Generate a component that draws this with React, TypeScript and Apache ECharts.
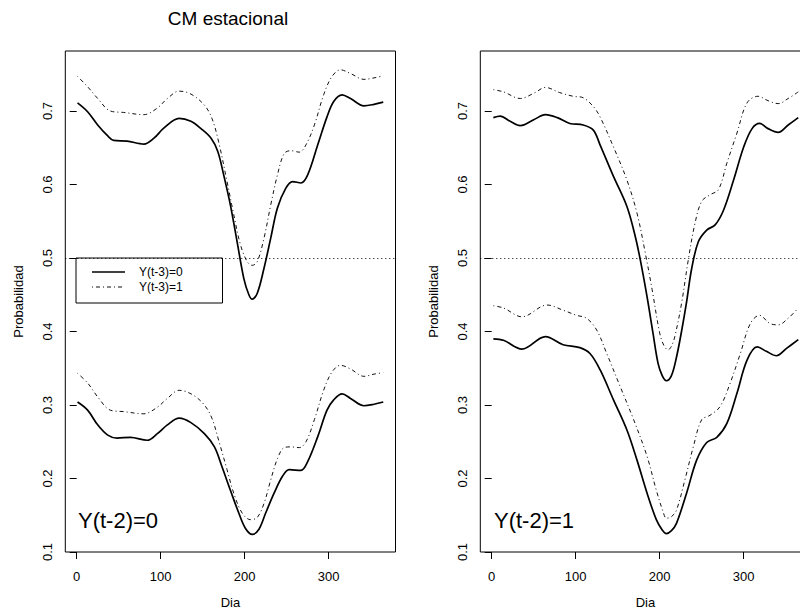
import React, { useEffect, useRef } from "react";
import * as echarts from "echarts";

// ---- data (day, probability) ----
const X_TICKS = [0, 100, 200, 300];
const Y_TICKS = [0.1, 0.2, 0.3, 0.4, 0.5, 0.6, 0.7];
const X_MIN = -13.56;
const X_MAX = 379.56;
const Y_MIN = 0.1;
const Y_MAX = 0.7816;
const REF_LINE = 0.5;

const TITLE = "CM estacional";
const PANEL_LABELS = ["Y(t-2)=0", "Y(t-2)=1"];
const LEGEND_NAMES = ["Y(t-3)=0", "Y(t-3)=1"];
const X_NAME = "Dia";
const Y_NAME = "Probabilidad";

// Panel Y(t-2)=0
const leftUpperSolid = [[1,0.711],[13,0.699],[25,0.681],[37,0.666],[44,0.660],[60,0.659],[80,0.655],[92,0.663],[104,0.677],[122,0.690],[136,0.686],[148,0.676],[160,0.663],[168,0.645],[175,0.613],[183,0.572],[191,0.522],[199,0.472],[205,0.450],[209,0.444],[215,0.452],[223,0.486],[231,0.527],[239,0.568],[249,0.595],[257,0.604],[267,0.602],[275,0.613],[287,0.654],[298,0.692],[306,0.713],[316,0.722],[326,0.717],[342,0.707],[354,0.709],[365,0.712]];
const leftUpperDash = [[1,0.747],[13,0.733],[25,0.717],[40,0.700],[56,0.698],[80,0.695],[96,0.704],[108,0.717],[122,0.727],[136,0.723],[152,0.708],[161,0.690],[169,0.658],[179,0.604],[187,0.559],[195,0.518],[203,0.495],[209,0.490],[215,0.495],[223,0.527],[231,0.572],[239,0.613],[247,0.642],[255,0.646],[265,0.644],[273,0.654],[283,0.681],[294,0.722],[304,0.747],[314,0.756],[326,0.751],[342,0.743],[354,0.745],[365,0.748]];
const leftLowerSolid = [[1,0.304],[13,0.293],[25,0.273],[37,0.259],[48,0.255],[64,0.256],[84,0.252],[96,0.261],[108,0.273],[122,0.282],[136,0.276],[152,0.261],[164,0.243],[173,0.216],[183,0.184],[193,0.153],[201,0.132],[209,0.124],[217,0.131],[225,0.153],[235,0.180],[245,0.203],[253,0.212],[267,0.211],[275,0.223],[287,0.257],[298,0.293],[306,0.307],[316,0.315],[326,0.309],[342,0.299],[354,0.301],[365,0.304]];
const leftLowerDash = [[1,0.343],[13,0.330],[25,0.311],[40,0.293],[56,0.291],[80,0.288],[96,0.297],[108,0.309],[122,0.320],[138,0.314],[152,0.300],[161,0.282],[169,0.252],[179,0.212],[187,0.180],[197,0.153],[207,0.144],[215,0.147],[223,0.166],[231,0.198],[239,0.227],[247,0.242],[255,0.243],[265,0.242],[273,0.250],[283,0.280],[294,0.320],[304,0.345],[314,0.354],[326,0.349],[342,0.339],[354,0.342],[365,0.344]];

// Panel Y(t-2)=1
const rightUpperSolid = [[2,0.691],[10,0.693],[22,0.686],[34,0.680],[50,0.688],[64,0.695],[78,0.691],[93,0.683],[109,0.681],[121,0.674],[129,0.654],[145,0.611],[161,0.570],[171,0.529],[177,0.497],[185,0.447],[192,0.398],[198,0.357],[203,0.340],[208,0.333],[214,0.340],[220,0.365],[226,0.400],[232,0.440],[238,0.485],[246,0.522],[256,0.538],[266,0.545],[276,0.565],[288,0.606],[300,0.651],[310,0.676],[319,0.683],[329,0.676],[341,0.671],[353,0.681],[365,0.691]];
const rightUpperDash = [[2,0.729],[14,0.726],[34,0.717],[50,0.724],[64,0.732],[81,0.725],[97,0.720],[109,0.718],[121,0.706],[129,0.692],[145,0.651],[161,0.606],[173,0.561],[183,0.506],[191,0.457],[200,0.398],[205,0.381],[210,0.375],[214,0.380],[218,0.393],[226,0.438],[234,0.497],[242,0.547],[250,0.577],[260,0.586],[270,0.593],[280,0.629],[292,0.670],[304,0.711],[317,0.720],[329,0.714],[341,0.710],[353,0.717],[365,0.726]];
const rightLowerSolid = [[2,0.390],[14,0.388],[36,0.376],[64,0.393],[85,0.382],[105,0.378],[117,0.370],[129,0.348],[145,0.307],[161,0.266],[173,0.225],[185,0.180],[196,0.144],[203,0.130],[208,0.125],[214,0.129],[220,0.139],[232,0.180],[244,0.225],[256,0.249],[268,0.256],[280,0.275],[292,0.316],[304,0.361],[316,0.379],[327,0.373],[339,0.367],[351,0.377],[365,0.389]];
const rightLowerDash = [[2,0.435],[14,0.432],[36,0.420],[66,0.436],[85,0.429],[101,0.422],[113,0.418],[125,0.402],[137,0.370],[153,0.325],[169,0.280],[185,0.230],[196,0.184],[204,0.155],[208,0.146],[214,0.148],[220,0.157],[230,0.198],[240,0.243],[250,0.280],[260,0.286],[272,0.298],[284,0.330],[296,0.370],[308,0.411],[319,0.422],[331,0.411],[341,0.409],[353,0.418],[365,0.432]];

const FONT = "'Liberation Sans', Arial, Helvetica, sans-serif";
const DASHDOT = [1, 3, 4, 3];

const GRIDS = [
  { left: 65.3, top: 51, width: 330.2, height: 501 },
  { left: 480.3, top: 51, width: 330.2, height: 501 },
];

function xAxis(gridIndex: number) {
  return {
    type: "value",
    gridIndex,
    min: X_MIN,
    max: X_MAX,
    axisLine: { show: false },
    splitLine: { show: false },
    axisTick: { show: true, customValues: X_TICKS, length: 7, lineStyle: { color: "#000", width: 1 } },
    axisLabel: { customValues: X_TICKS, margin: 18, color: "#000", fontSize: 13, fontFamily: FONT },
    name: X_NAME,
    nameLocation: "middle",
    nameGap: 44,
    nameMoveOverlap: false,
    nameTextStyle: { color: "#000", fontSize: 13, fontFamily: FONT },
  };
}

function yAxis(gridIndex: number) {
  return {
    type: "value",
    gridIndex,
    min: Y_MIN,
    max: Y_MAX,
    axisLine: { show: false },
    splitLine: { show: false },
    axisTick: { show: true, customValues: Y_TICKS, length: 7, lineStyle: { color: "#000", width: 1 } },
    axisLabel: {
      customValues: Y_TICKS,
      rotate: 90,
      margin: 11,
      color: "#000",
      fontSize: 13,
      fontFamily: FONT,
      formatter: (v: number) => v.toFixed(1),
    },
    name: Y_NAME,
    nameLocation: "middle",
    nameGap: 40,
    nameMoveOverlap: false,
    nameTextStyle: { color: "#000", fontSize: 13, fontFamily: FONT },
  };
}

function lineSeries(name: string, data: number[][], gi: number, dashed: boolean, mark: boolean) {
  const s: any = {
    type: "line",
    name,
    xAxisIndex: gi,
    yAxisIndex: gi,
    data,
    smooth: 0.35,
    symbol: "none",
    showSymbol: false,
    silent: true,
    lineStyle: dashed
      ? { color: "#111", width: 1, type: DASHDOT }
      : { color: "#000", width: 1.7, type: "solid" },
  };
  if (mark) {
    s.markLine = {
      silent: true,
      symbol: ["none", "none"],
      label: { show: false },
      lineStyle: { color: "#000", width: 1, type: [1, 3] },
      data: [{ yAxis: REF_LINE }],
    };
  }
  return s;
}

export default function App() {
  const ref = useRef<HTMLDivElement>(null);
  useEffect(() => {
    if (!ref.current) return;
    const chart = echarts.init(ref.current, null, { renderer: "svg", width: 800, height: 612 });
    const option: any = {
      animation: false,
      backgroundColor: "#fff",
      grid: GRIDS.map((g) => ({
        ...g,
        show: true,
        borderColor: "#000",
        borderWidth: 1,
        backgroundColor: "transparent",
        containLabel: false,
        outerBoundsMode: "none",
      })),
      xAxis: [xAxis(0), xAxis(1)],
      yAxis: [yAxis(0), yAxis(1)],
      series: [
        lineSeries(LEGEND_NAMES[0], leftUpperSolid, 0, false, true),
        lineSeries(LEGEND_NAMES[1], leftUpperDash, 0, true, false),
        lineSeries(LEGEND_NAMES[0], leftLowerSolid, 0, false, false),
        lineSeries(LEGEND_NAMES[1], leftLowerDash, 0, true, false),
        lineSeries(LEGEND_NAMES[0], rightUpperSolid, 1, false, true),
        lineSeries(LEGEND_NAMES[1], rightUpperDash, 1, true, false),
        lineSeries(LEGEND_NAMES[0], rightLowerSolid, 1, false, false),
        lineSeries(LEGEND_NAMES[1], rightLowerDash, 1, true, false),
      ],
      graphic: [
        {
          type: "text",
          x: 228,
          y: 18,
          style: { text: TITLE, fill: "#000", fontSize: 19, fontFamily: FONT, align: "center", verticalAlign: "middle" },
        },
        {
          type: "text",
          x: 78,
          y: 520,
          style: { text: PANEL_LABELS[0], fill: "#000", fontSize: 22, fontFamily: FONT, align: "left", verticalAlign: "middle" },
        },
        {
          type: "text",
          x: 494,
          y: 520,
          style: { text: PANEL_LABELS[1], fill: "#000", fontSize: 22, fontFamily: FONT, align: "left", verticalAlign: "middle" },
        },
        {
          type: "group",
          x: 76,
          y: 258,
          z: 100,
          children: [
            {
              type: "rect",
              shape: { x: 0, y: 0, width: 146.5, height: 45 },
              style: { fill: "#fff", stroke: "#000", lineWidth: 1 },
            },
            {
              type: "line",
              shape: { x1: 16, y1: 14, x2: 49, y2: 14 },
              style: { stroke: "#000", lineWidth: 1.3 },
            },
            {
              type: "line",
              shape: { x1: 16, y1: 29, x2: 49, y2: 29 },
              style: { stroke: "#111", lineWidth: 1, lineDash: DASHDOT },
            },
            {
              type: "text",
              x: 63,
              y: 14,
              style: { text: LEGEND_NAMES[0], fill: "#000", fontSize: 12, fontFamily: FONT, align: "left", verticalAlign: "middle" },
            },
            {
              type: "text",
              x: 63,
              y: 29,
              style: { text: LEGEND_NAMES[1], fill: "#000", fontSize: 12, fontFamily: FONT, align: "left", verticalAlign: "middle" },
            },
          ],
        },
      ],
    };
    chart.setOption(option);
    return () => chart.dispose();
  }, []);
  return (
    <div style={{ position: "fixed", left: 0, top: 0, width: 800, height: 612, overflow: "hidden", background: "#fff" }}>
      <div ref={ref} style={{ width: 800, height: 612 }} />
    </div>
  );
}
